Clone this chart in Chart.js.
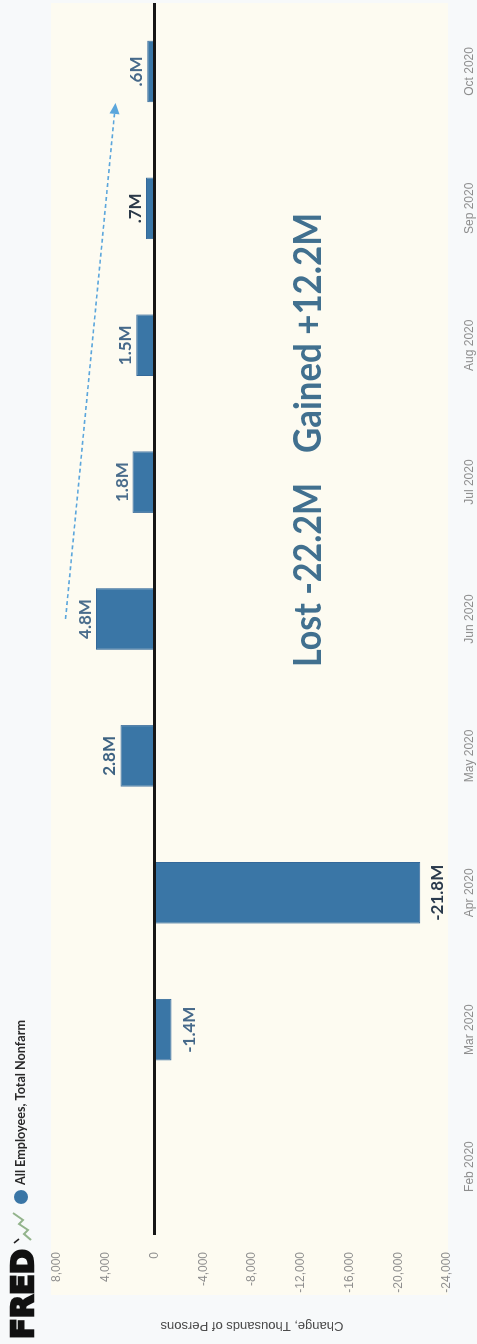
<!DOCTYPE html>
<html>
<head>
<meta charset="utf-8">
<script src="https://cdn.jsdelivr.net/npm/chart.js@4.4.1/dist/chart.umd.min.js"></script>
<style>
  html, body { margin: 0; padding: 0; background: #f7f9fa; overflow: hidden; }
  /* chart is laid out landscape, then turned a quarter-turn counter-clockwise */
  #wrap {
    position: absolute; left: 0; top: 0;
    width: 1344px; height: 477px;
    transform-origin: 0 0;
    transform: translateY(1344px) rotate(-90deg);
  }
</style>
</head>
<body>
<div id="wrap"><canvas id="chart" width="1344" height="477"></canvas></div>
<script>
// Monthly change, all employees total nonfarm (thousands of persons)
const MONTHS = ['Feb 2020', 'Mar 2020', 'Apr 2020', 'May 2020', 'Jun 2020', 'Jul 2020', 'Aug 2020', 'Sep 2020', 'Oct 2020'];
const CHANGE = [0, -1400, -21800, 2800, 4800, 1800, 1500, 700, 600];
const LABEL_COLORS = ['#46698a', '#46698a', '#2a3a4c', '#3d6282', '#4a6d8c', '#4a6d8c', '#46698a', '#2b3948', '#46698a'];

const Y_MIN = -24000;
const Y_MAX = 8000;
const Y_STEP = 4000;

const SERIES_NAME = 'All Employees, Total Nonfarm';
const Y_TITLE = 'Change, Thousands of Persons';
const NOTE_LOST = 'Lost -22.2M';
const NOTE_GAINED = 'Gained +12.2M';

const BAR_BLUE = '#3a76a6';
const NOTE_BLUE = '#41708f';
const ARROW_BLUE = '#5ba6dc';

// annotation anchors, in (category index, value) space
const NOTE_AT = { index: 3.65, value: -13700 };
const ARROW_FROM = { index: 4.0, value: 7300 };
const ARROW_TO = { index: 7.77, value: 3200 };

Chart.defaults.font.family = '"Liberation Sans", Arial, sans-serif';

function fmtM(v) {
  return (v / 1000).toFixed(1).replace(/^(-?)0\./, '$1.') + 'M';
}

// fill a string so it spans exactly `width` pixels, squeezing horizontally if needed
function fitText(ctx, text, x, y, width, outline) {
  const w = ctx.measureText(text).width;
  ctx.save();
  ctx.translate(x, y);
  ctx.scale(width / w, 1);
  ctx.fillText(text, 0, 0);
  if (outline) {
    ctx.lineWidth = outline;
    ctx.lineJoin = 'miter';
    ctx.strokeText(text, 0, 0);
  }
  ctx.restore();
}

const background = {
  id: 'background',
  beforeDraw(chart) {
    const { ctx, chartArea: a } = chart;
    ctx.save();
    ctx.fillStyle = '#f7f9fa';
    ctx.fillRect(0, 0, chart.width, chart.height);
    ctx.fillStyle = '#fdfbf1';
    ctx.fillRect(a.left - 60, a.top - 6, a.right - a.left + 60, a.bottom - a.top + 7);
    ctx.restore();
  },
};

// FRED mark + series legend along the top edge
const header = {
  id: 'header',
  afterDraw(chart) {
    const ctx = chart.ctx;
    ctx.save();
    ctx.fillStyle = '#111';
    ctx.strokeStyle = '#111';
    ctx.font = 'bold 31px "DejaVu Sans", sans-serif';
    ctx.textBaseline = 'alphabetic';
    fitText(ctx, 'FRED', 5, 33, 90, 2.5);

    // little line-graph glyph
    ctx.lineWidth = 1.6;
    ctx.strokeStyle = '#222';
    ctx.beginPath();
    ctx.moveTo(101, 14); ctx.lineTo(105, 19);
    ctx.stroke();
    ctx.strokeStyle = '#93b48c';
    ctx.lineWidth = 2;
    ctx.beginPath();
    ctx.moveTo(104, 31); ctx.lineTo(110, 24); ctx.lineTo(114, 28);
    ctx.lineTo(120, 19); ctx.lineTo(124, 23); ctx.lineTo(131, 13);
    ctx.stroke();

    ctx.fillStyle = BAR_BLUE;
    ctx.beginPath();
    ctx.arc(147, 21, 7, 0, Math.PI * 2);
    ctx.fill();

    ctx.fillStyle = '#2a2a2a';
    ctx.font = 'bold 13px Lato, sans-serif';
    ctx.textBaseline = 'middle';
    fitText(ctx, SERIES_NAME, 159, 21, 165);
    ctx.restore();
  },
};

// value labels at the end of each bar
const barLabels = {
  id: 'barLabels',
  afterDatasetsDraw(chart) {
    const ctx = chart.ctx;
    const meta = chart.getDatasetMeta(0);
    ctx.save();
    ctx.font = 'bold 17px Lato, sans-serif';
    ctx.textAlign = 'center';
    ctx.textBaseline = 'alphabetic';
    meta.data.forEach((bar, i) => {
      const v = CHANGE[i];
      if (!v) return;
      ctx.fillStyle = LABEL_COLORS[i];
      const y = v > 0 ? bar.y - 5 : bar.y + 23;
      ctx.fillText(fmtM(v), bar.x, y);
    });
    ctx.restore();
  },
};

// big summary note and the dashed recovery arrow
const notes = {
  id: 'notes',
  afterDraw(chart) {
    const { ctx, scales: { x, y } } = chart;
    ctx.save();
    ctx.fillStyle = NOTE_BLUE;
    ctx.font = 'bold 38px Lato, sans-serif';
    ctx.textBaseline = 'alphabetic';
    const nx = x.getPixelForValue(NOTE_AT.index);
    const ny = y.getPixelForValue(NOTE_AT.value);
    fitText(ctx, NOTE_LOST, nx, ny, 184);
    fitText(ctx, NOTE_GAINED, nx + 214, ny, 240);

    const x0 = x.getPixelForValue(ARROW_FROM.index), y0 = y.getPixelForValue(ARROW_FROM.value);
    const x1 = x.getPixelForValue(ARROW_TO.index), y1 = y.getPixelForValue(ARROW_TO.value);
    const ang = Math.atan2(y1 - y0, x1 - x0);
    const head = 11;
    ctx.strokeStyle = ARROW_BLUE;
    ctx.fillStyle = ARROW_BLUE;
    ctx.lineWidth = 1.6;
    ctx.setLineDash([4, 3]);
    ctx.beginPath();
    ctx.moveTo(x0, y0);
    ctx.lineTo(x1 - head * Math.cos(ang), y1 - head * Math.sin(ang));
    ctx.stroke();
    ctx.setLineDash([]);
    ctx.translate(x1, y1);
    ctx.rotate(ang);
    ctx.beginPath();
    ctx.moveTo(0, 0);
    ctx.lineTo(-head, -5);
    ctx.lineTo(-head, 5);
    ctx.closePath();
    ctx.fill();
    ctx.restore();
  },
};

new Chart(document.getElementById('chart'), {
  type: 'bar',
  data: {
    labels: MONTHS,
    datasets: [{
      label: SERIES_NAME,
      data: CHANGE,
      backgroundColor: BAR_BLUE,
      borderColor: '#35699a',
      borderWidth: 1,
      barPercentage: 0.9,
      categoryPercentage: 0.5,
    }],
  },
  options: {
    responsive: false,
    animation: false,
    layout: { padding: { top: 57, right: 3, left: 0, bottom: 0 } },
    plugins: { legend: { display: false }, title: { display: false }, tooltip: { enabled: false } },
    scales: {
      x: {
        grid: { display: false, drawTicks: false },
        border: { display: false },
        ticks: { color: '#8e8e8e', font: { size: 12 }, padding: 15, maxRotation: 0, autoSkip: false },
        afterFit: s => { s.height = 30; },
      },
      y: {
        min: Y_MIN,
        max: Y_MAX,
        z: 1,
        grid: {
          drawTicks: false,
          color: c => (c.tick && c.tick.value === 0 ? '#161616' : 'rgba(0,0,0,0)'),
          lineWidth: 3,
        },
        border: { display: false },
        ticks: { stepSize: Y_STEP, color: '#8e8e8e', font: { size: 12 }, padding: 17 },
        title: { display: true, text: Y_TITLE, color: '#4a4a4a', font: { size: 13 }, padding: { top: 11, bottom: 0 } },
        afterFit: s => { s.width = 109; },
      },
    },
  },
  plugins: [background, header, barLabels, notes],
});
</script>
</body>
</html>
